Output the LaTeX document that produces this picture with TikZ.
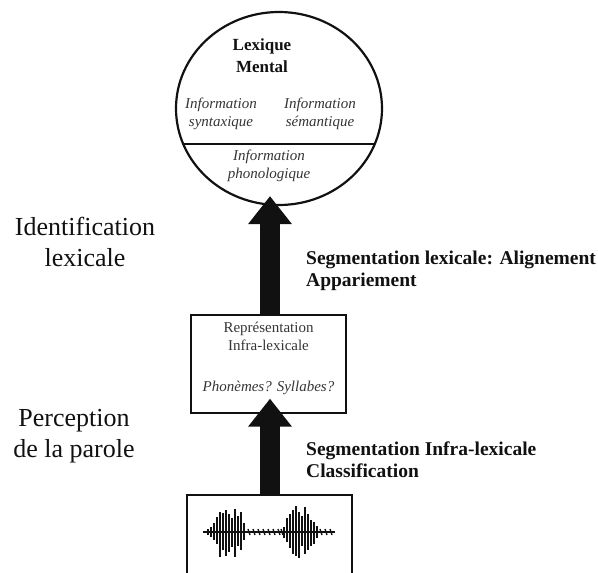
\documentclass[tikz,border=0pt]{standalone}
\usepackage{fontspec}
\setmainfont{Liberation Serif}
\usepackage{tikz}
\usetikzlibrary{positioning,shapes.geometric,arrows.meta,calc}
\definecolor{ink}{HTML}{111111}
\tikzset{
  >=stealth,
  % --- nodes
  lexbox/.style  = {ellipse, draw=ink, line width=2.2pt, minimum width=206pt,
                    minimum height=193pt, inner sep=0pt},
  boite/.style   = {rectangle, draw=ink, line width=1.3pt, inner sep=0pt},
  side/.style    = {font=\fontsize{26}{31}\selectfont, align=center, inner sep=0pt, text=ink},
  seglbl/.style  = {font=\fontsize{19.5}{22.5}\selectfont\bfseries, align=left,
                    anchor=west, inner sep=0pt, text=ink},
  titre/.style   = {font=\fontsize{17}{22}\selectfont\bfseries, align=center, inner sep=0pt, text=ink},
  info/.style    = {font=\fontsize{15}{18}\selectfont\itshape, align=center, inner sep=0pt, text=ink!85},
  repr/.style    = {font=\fontsize{15}{18}\selectfont, align=center, inner sep=0pt, text=ink!85},
  % --- edges
  bigarrow/.style= {draw=ink, line width=20pt, -{Triangle[length=28pt,width=42pt]}},
  wavestroke/.style = {draw=ink, line width=2.8pt},
}
\begin{document}
\begin{tikzpicture}[x=1pt,y=-1pt]
  \useasboundingbox (0,0) rectangle (598,573);

  % lexique mental
  \node[lexbox] (lex) at (279,108.5) {};
  \draw[ink, line width=1.8pt] ($(lex.center)+(-96,35.5)$) -- ($(lex.center)+(96,35.5)$);
  \node[titre] (lexname) at (262,56) {Lexique\\Mental};
  \node[info] (syn) at (221,114) {Information\\syntaxique};
  \node[info] (sem) at (320,114) {Information\\s\'emantique};
  \node[info] (phon) at (269,166) {Information\\phonologique};

  % representation infra-lexicale
  \node[boite, minimum width=155pt, minimum height=98pt] (infra) at (268.5,364) {};
  \node[repr] (infraname) at (268.5,336) {Repr\'esentation\\Infra-lexicale};
  \node[info] (units) at (268.5,388) {Phon\`emes? Syllabes?};

  % signal de parole
  \node[boite, minimum width=165pt, minimum height=82pt] (wave) at (269.5,536) {};
  \draw[ink, line width=2pt] (203,532) -- (335,532);
  \foreach \x/\u/\d in {208/3/3, 211/5/5, 214/9/8, 217/15/12, 220/20/25, 223/19/18,
                        226/22/24, 229/18/20, 232/14/15, 235/23/25, 238/16/14,
                        241/20/18, 244/9/8,
                        284/5/6, 287/14/10, 290/18/16, 293/22/22, 296/26/24,
                        299/20/26, 302/16/14, 305/25/22, 308/18/18, 311/12/14,
                        314/10/12, 317/6/6}
    \draw[wavestroke] (\x,532-\u) -- (\x,532+\d);
  \foreach \x in {248,253,258,263,268,273,278,281,320,325,330}
    \draw[ink, line width=1.4pt] (\x,529) -- (\x+2,535);

  % fleches
  \draw[bigarrow, shorten >=-15pt] (wave.north -| 270,0) -- (270,0 |- infra.south);
  \draw[bigarrow, shorten >=-10pt] (infra.north -| 270,0) -- (270,0 |- lex.south);

  % etiquettes
  \node[side] (ident) at (85,242) {Identification\\lexicale};
  \node[side] (percep) at (74,436) {Perception\\de la parole};
  \node[seglbl] (seglex) at (306,271) {Segmentation lexicale: Alignement\\Appariement};
  \node[seglbl] (seginfra) at (306,459.5) {Segmentation Infra-lexicale\\Classification};
\end{tikzpicture}
\end{document}
